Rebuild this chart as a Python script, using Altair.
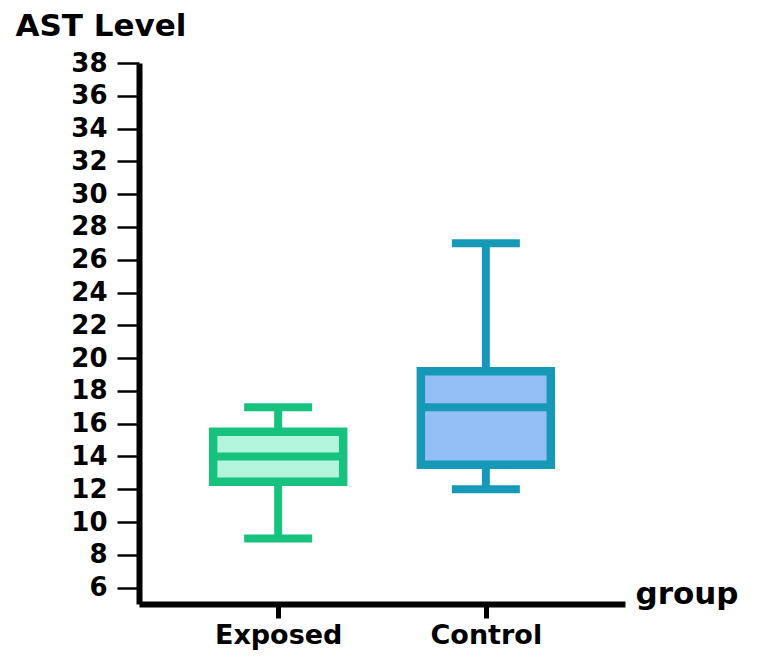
import altair as alt
import pandas as pd

groups = ["Exposed", "Control"]
lower = [9.0, 12.0]
q1 = [12.45, 13.5]
median = [14.0, 17.0]
q3 = [15.5, 19.2]
upper = [17.0, 27.0]
stroke_colors = ["#16c27d", "#1599b6"]
fill_colors = ["#b3f5dc", "#93bff6"]
y_ticks = list(range(6, 40, 2))

df = pd.DataFrame({"group": groups, "lower": lower, "q1": q1, "median": median,
                   "q3": q3, "upper": upper})

FONT = "DejaVu Sans"
W, H = 486, 541

xscale = alt.Scale(type="point", domain=groups, padding=0.67)
yscale = alt.Scale(domain=[5, 38], nice=False, zero=False)
stroke_scale = alt.Scale(domain=groups, range=stroke_colors)
fill_scale = alt.Scale(domain=groups, range=fill_colors)

xaxis = alt.Axis(title="group", titleFont=FONT, titleFontSize=31, titleFontWeight="bold",
                 titleAngle=0, titleAlign="left", titleBaseline="alphabetic",
                 titleX=W + 10, titleY=-1, titleColor="black",
                 labelFont=FONT, labelFontSize=27, labelFontWeight="bold", labelColor="black",
                 labelAngle=0, labelPadding=4, labelBaseline="top",
                 domainWidth=6, domainColor="black", tickColor="black",
                 tickWidth=5, tickSize=14, grid=False)
yaxis = alt.Axis(title="AST Level", titleFont=FONT, titleFontSize=31, titleFontWeight="bold",
                 titleAngle=0, titleAlign="left", titleBaseline="alphabetic",
                 titleX=-124, titleY=-28, titleColor="black",
                 values=y_ticks, labelOverlap=False, labelFont=FONT, labelFontSize=26,
                 labelFontWeight="bold", labelColor="black", labelPadding=10,
                 domainWidth=6, domainColor="black", tickColor="black",
                 tickWidth=2.5, tickSize=22, grid=False)

base = alt.Chart(df)
x = alt.X("group:N", scale=xscale, axis=xaxis, sort=groups)


def yq(field):
    return alt.Y(field, type="quantitative", scale=yscale, axis=yaxis)


whisker = base.mark_rule(strokeWidth=8).encode(
    x=x,
    y=yq("lower"),
    y2="upper:Q",
    color=alt.Color("group:N", scale=stroke_scale, legend=None),
)
box = base.mark_bar(size=130, strokeWidth=8.5).encode(
    x=x,
    y=yq("q1"),
    y2="q3:Q",
    fill=alt.Fill("group:N", scale=fill_scale, legend=None),
    stroke=alt.Stroke("group:N", scale=stroke_scale, legend=None),
)
med = base.mark_tick(size=130, thickness=8, opacity=1).encode(
    x=x,
    y=yq("median"),
    color=alt.Color("group:N", scale=stroke_scale, legend=None),
)
cap_lo = base.mark_tick(size=68, thickness=8, opacity=1).encode(
    x=x,
    y=yq("lower"),
    color=alt.Color("group:N", scale=stroke_scale, legend=None),
)
cap_hi = base.mark_tick(size=68, thickness=8, opacity=1).encode(
    x=x,
    y=yq("upper"),
    color=alt.Color("group:N", scale=stroke_scale, legend=None),
)

chart = alt.layer(whisker, box, med, cap_lo, cap_hi).properties(
    width=W, height=H,
    padding={"left": 131, "top": 55, "right": 127, "bottom": 46},
    autosize=alt.AutoSizeParams(type="none"),
).configure_view(stroke=None).configure_axisY(labelOverlap=False)

chart.save("out.html", embed_options={"renderer": "svg", "actions": False})
